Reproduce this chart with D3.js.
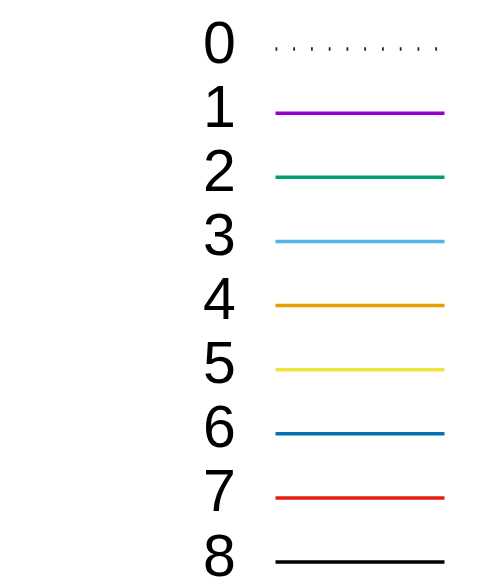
<!DOCTYPE html>
<html><head><meta charset="utf-8">
<script src="https://cdn.jsdelivr.net/npm/d3@7"></script>
<style>html,body{margin:0;padding:0;background:#fff;}</style>
</head><body>
<svg id="c" width="490" height="588"></svg>
<script>
const labels = ["0","1","2","3","4","5","6","7","8"];
const colors = ["#000000","#9400d3","#009e73","#56b4e9","#e69f00","#f0e442","#0072b2","#e51e10","#000000"];
const dashed = [true,false,false,false,false,false,false,false,false];

const svg = d3.select("#c");
const y = d3.scalePoint().domain(labels).range([49, 562]);
const x = d3.scaleLinear().domain([0,1]).range([275.5, 444.5]);

const g = svg.selectAll("g.row").data(labels).join("g").attr("class","row");
g.append("text")
  .attr("x", 203)
  .attr("y", d => y(d) + 13.5)
  .attr("font-family", "Liberation Sans, Arial, sans-serif")
  .attr("font-size", 59)
  .attr("fill", "#000")
  .text(d => d);
g.append("line")
  .attr("x1", x(0)).attr("x2", x(1))
  .attr("y1", d => y(d)).attr("y2", d => y(d))
  .attr("stroke", (d,i) => colors[i])
  .attr("stroke-width", 3.5)
  .attr("stroke-dasharray", (d,i) => dashed[i] ? "1.8,15.95" : null)
  .attr("stroke-opacity", (d,i) => dashed[i] ? 0.85 : 1);
</script>
</body></html>
